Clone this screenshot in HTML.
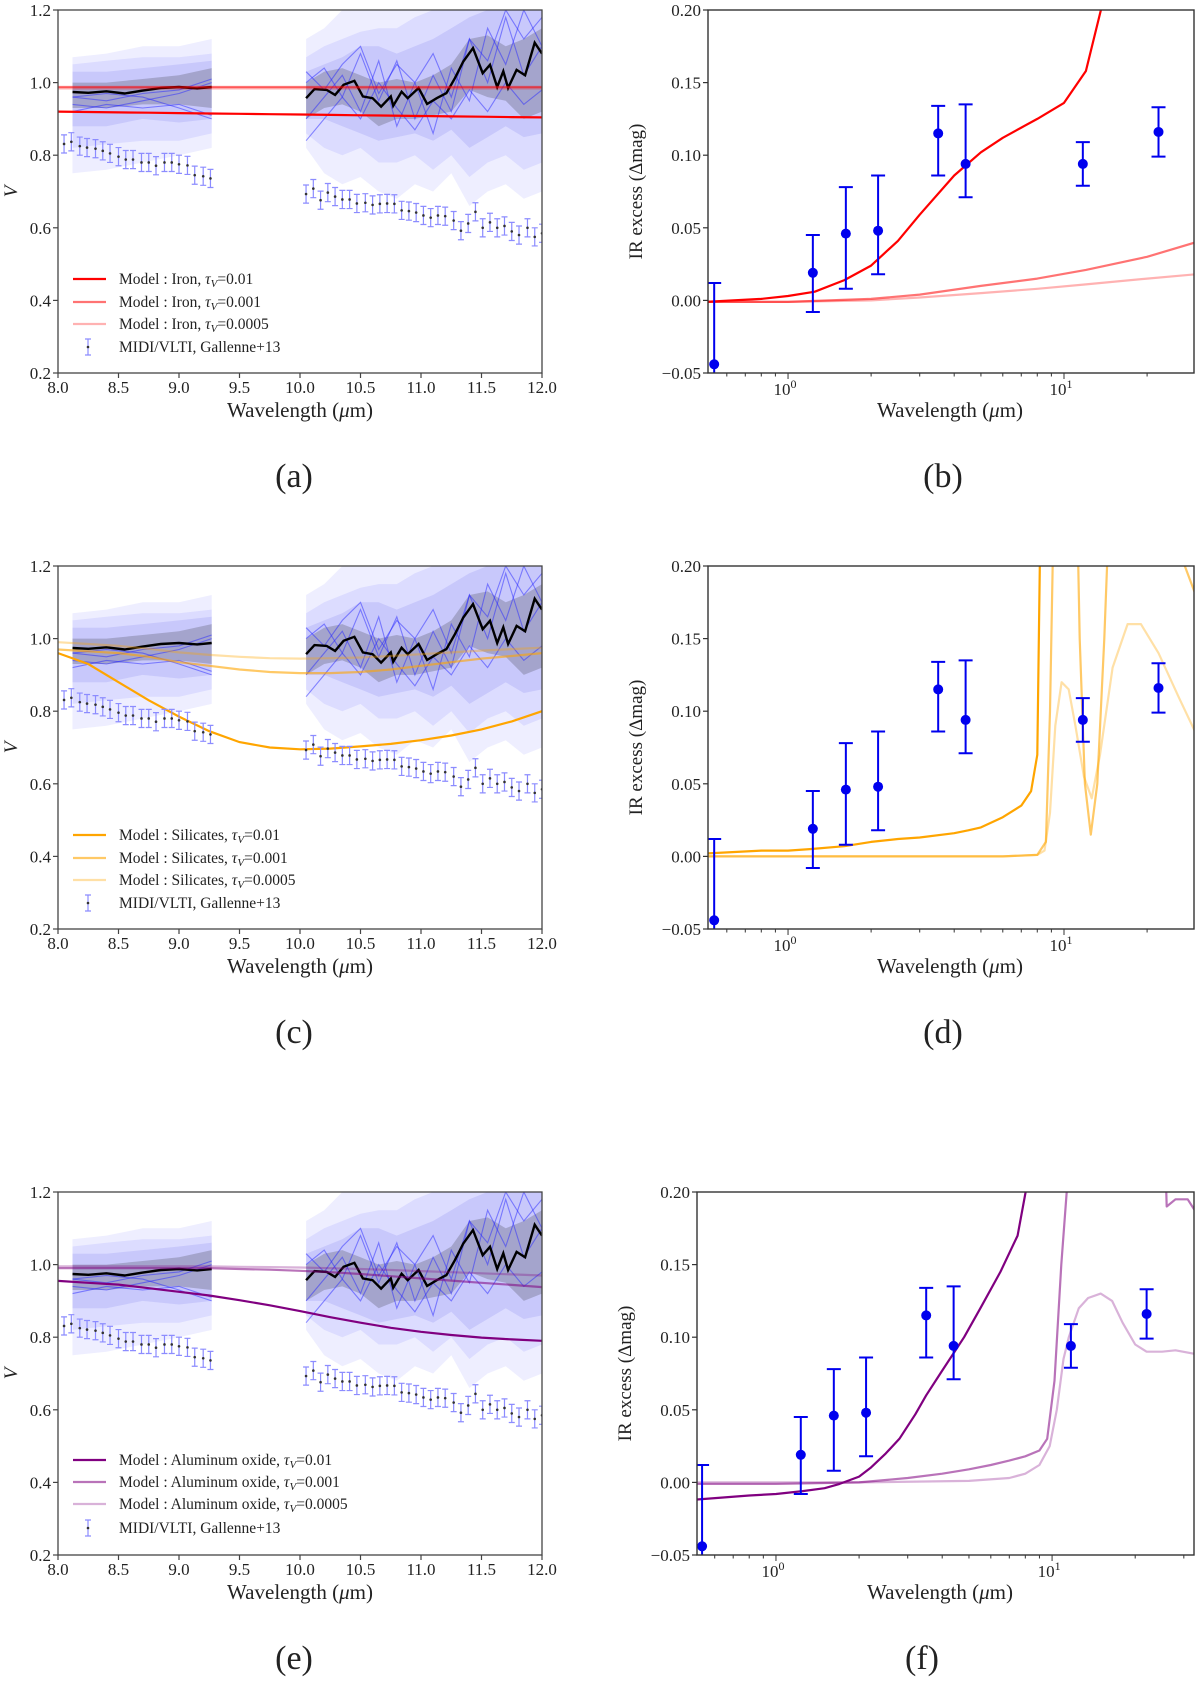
<!DOCTYPE html>
<html><head><meta charset="utf-8"><style>
html,body{margin:0;padding:0;background:#fff;}
svg{display:block;font-family:"Liberation Serif",serif;}
</style></head><body>
<svg id="fig" width="1200" height="1683" viewBox="0 0 1200 1683" xmlns="http://www.w3.org/2000/svg"></svg>
<script>
// ---------- DATA ----------
const midi1X=[8.05,8.11,8.18,8.24,8.31,8.37,8.43,8.50,8.56,8.62,8.69,8.75,8.81,8.88,8.94,9.00,9.07,9.13,9.20,9.26];
const midi1Y=[0.831,0.837,0.825,0.821,0.818,0.812,0.805,0.796,0.788,0.788,0.78,0.78,0.771,0.78,0.78,0.775,0.772,0.745,0.742,0.736];
const midi2X=[10.05,10.11,10.17,10.23,10.29,10.35,10.41,10.47,10.54,10.60,10.66,10.72,10.78,10.84,10.90,10.96,11.02,11.08,11.14,11.20,11.27,11.33,11.39,11.45,11.51,11.57,11.63,11.69,11.75,11.81,11.88,11.94,12.0];
const midi2Y=[0.693,0.708,0.676,0.697,0.686,0.678,0.678,0.667,0.669,0.663,0.666,0.667,0.666,0.648,0.646,0.642,0.634,0.628,0.634,0.632,0.62,0.592,0.612,0.644,0.6,0.615,0.6,0.605,0.59,0.58,0.6,0.575,0.585];
const midiErr=0.025;
const black1X=[8.12,8.25,8.4,8.55,8.7,8.85,9.0,9.15,9.27];
const black1Y=[0.974,0.972,0.976,0.97,0.978,0.985,0.988,0.984,0.988];
const black2X=[10.05,10.12,10.22,10.29,10.36,10.45,10.52,10.60,10.67,10.75,10.77,10.84,10.89,10.98,11.05,11.13,11.21,11.28,11.35,11.43,11.51,11.57,11.63,11.68,11.72,11.79,11.86,11.94,12.0];
const black2Y=[0.957,0.982,0.98,0.966,0.994,1.005,0.962,0.957,0.934,0.962,0.936,0.975,0.957,0.985,0.941,0.957,0.971,1.012,1.058,1.095,1.026,1.049,0.988,1.031,0.985,1.035,1.02,1.11,1.08];
const band1X=[8.12,8.4,8.7,9.0,9.27];
const band1Up=[[1.07,1.08,1.1,1.1,1.12],[1.05,1.06,1.07,1.07,1.08],[1.03,1.03,1.04,1.05,1.06],[1.0,1.0,1.01,1.02,1.04]];
const band1Lo=[[0.75,0.76,0.78,0.8,0.82],[0.82,0.83,0.84,0.84,0.86],[0.88,0.88,0.9,0.89,0.9],[0.93,0.93,0.94,0.94,0.93]];
const band2X=[10.05,10.2,10.35,10.5,10.65,10.8,10.95,11.1,11.25,11.4,11.55,11.7,11.85,12.0];
const band2Up=[[1.12,1.15,1.2,1.2,1.2,1.2,1.2,1.2,1.2,1.2,1.2,1.2,1.2,1.2],[1.07,1.1,1.12,1.14,1.15,1.15,1.18,1.2,1.2,1.2,1.2,1.2,1.2,1.2],[1.03,1.05,1.07,1.1,1.1,1.08,1.1,1.12,1.15,1.18,1.2,1.2,1.2,1.2],[1.0,1.03,1.04,1.02,1.0,1.01,1.0,1.02,1.05,1.12,1.13,1.1,1.12,1.15]];
const band2Lo=[[0.82,0.75,0.72,0.74,0.7,0.68,0.72,0.7,0.75,0.66,0.7,0.72,0.68,0.7],[0.86,0.82,0.8,0.82,0.78,0.78,0.8,0.76,0.8,0.74,0.78,0.8,0.76,0.78],[0.9,0.9,0.88,0.86,0.84,0.85,0.86,0.84,0.87,0.82,0.85,0.88,0.85,0.86],[0.9,0.93,0.94,0.92,0.88,0.9,0.9,0.91,0.92,0.98,0.96,0.95,0.9,0.92]];
const thin1X=[8.12,8.4,8.7,9.0,9.27];
const thin1Y=[[0.96,0.95,0.97,0.98,1.01],[0.94,0.93,0.95,0.97,1.0],[0.92,0.94,0.93,0.94,0.91],[0.96,0.97,0.96,0.93,0.90]];
const thin2X=[10.05,10.2,10.35,10.5,10.65,10.8,10.95,11.1,11.25,11.4,11.55,11.7,11.85,12.0];
const thin2Y=[
[1.0,1.04,0.96,1.08,0.95,1.06,0.9,1.02,0.92,1.12,1.0,1.18,1.02,1.1],
[0.9,0.96,1.02,0.92,1.06,0.88,1.0,0.86,1.04,0.95,1.15,1.05,1.2,1.1],
[0.84,0.9,0.96,0.9,1.0,0.93,0.87,0.95,0.9,0.98,0.92,1.0,0.94,0.98],
[1.03,0.98,1.05,1.1,0.97,1.05,1.0,1.08,0.96,1.12,1.06,1.2,1.12,1.18]];
const modX=[8,8.25,8.5,8.75,9,9.25,9.5,9.75,10,10.25,10.5,10.75,11,11.25,11.5,11.75,12];
const ironA=[0.920,0.919,0.918,0.917,0.916,0.915,0.914,0.913,0.912,0.911,0.910,0.909,0.908,0.907,0.906,0.905,0.904];
const ironB=[0.988,0.988,0.988,0.988,0.988,0.988,0.988,0.988,0.988,0.988,0.988,0.988,0.988,0.988,0.988,0.988,0.988];
const ironC=[0.984,0.984,0.984,0.984,0.984,0.984,0.984,0.984,0.984,0.984,0.984,0.984,0.984,0.984,0.984,0.984,0.984];
const silA=[0.96,0.93,0.88,0.83,0.785,0.745,0.715,0.70,0.695,0.697,0.703,0.71,0.72,0.733,0.75,0.772,0.80];
const silB=[0.97,0.965,0.96,0.95,0.935,0.925,0.915,0.908,0.905,0.905,0.908,0.915,0.925,0.935,0.945,0.952,0.96];
const silC=[0.99,0.985,0.98,0.972,0.962,0.955,0.95,0.946,0.945,0.946,0.948,0.952,0.957,0.962,0.967,0.971,0.975];
const alA=[0.955,0.95,0.945,0.935,0.925,0.915,0.902,0.888,0.872,0.855,0.84,0.826,0.815,0.806,0.799,0.794,0.79];
const alB=[0.99,0.99,0.99,0.99,0.99,0.99,0.988,0.986,0.983,0.979,0.974,0.968,0.962,0.956,0.95,0.944,0.938];
const alC=[0.995,0.995,0.995,0.995,0.995,0.995,0.994,0.993,0.992,0.99,0.988,0.985,0.982,0.979,0.976,0.973,0.97];
const obsX=[0.54,1.23,1.62,2.12,3.5,4.4,11.7,22];
const obsY=[-0.044,0.019,0.046,0.048,0.115,0.094,0.094,0.116];
const obsLo=[-0.1,-0.008,0.008,0.018,0.086,0.071,0.079,0.099];
const obsHi=[0.012,0.045,0.078,0.086,0.134,0.135,0.109,0.133];
const ironRAx=[0.5,0.8,1,1.25,1.6,2,2.5,3,4,5,6,7,8,10,12,13.6,15];
const ironRAy=[-0.001,0.001,0.003,0.006,0.014,0.024,0.041,0.059,0.086,0.102,0.112,0.119,0.125,0.136,0.158,0.2,0.22];
const ironRBx=[0.5,1,2,3,5,8,12,20,30];
const ironRBy=[-0.001,-0.001,0.001,0.004,0.01,0.015,0.021,0.03,0.04];
const ironRCy=[-0.001,-0.001,0.0,0.002,0.005,0.008,0.011,0.015,0.018];
const silRAx=[0.5,0.8,1,1.2,1.6,2,2.5,3,4,4.5,5,6,7,7.6,8.0,8.2,8.5,30];
const silRAy=[0.002,0.004,0.004,0.005,0.007,0.01,0.012,0.013,0.016,0.018,0.02,0.027,0.035,0.045,0.07,0.22,0.5,0.5];
const silRBx=[0.5,1,2,4,6,8,8.6,8.9,9.2,9.5,11,11.4,11.9,12.5,13.2,14,15,25,27.4,30];
const silRBy=[0,0,0,0,0,0.001,0.01,0.1,0.25,0.4,0.3,0.15,0.05,0.015,0.05,0.15,0.3,0.3,0.2,0.18];
const silRCx=[0.5,2,6,8,8.5,8.9,9.3,9.8,10.4,11,11.8,12.6,13.5,15,17,19,22,26,30];
const silRCy=[0,0,0,0.001,0.004,0.03,0.09,0.12,0.115,0.09,0.055,0.04,0.07,0.13,0.16,0.16,0.14,0.11,0.085];
const alRAx=[0.5,0.8,1,1.25,1.5,1.7,2,2.2,2.5,2.8,3.2,3.5,4,4.8,5.5,6.5,7.5,8.2];
const alRAy=[-0.012,-0.009,-0.008,-0.006,-0.004,-0.001,0.004,0.01,0.02,0.03,0.047,0.06,0.077,0.1,0.12,0.145,0.17,0.21];
const alRBx=[0.5,1,2,3,4,5,6,7,8,9,9.6,10.2,10.8,11.3,11.8,25,26,28,31,34];
const alRBy=[-0.001,-0.001,0.0,0.003,0.006,0.009,0.012,0.015,0.018,0.022,0.03,0.07,0.15,0.2,0.3,0.3,0.19,0.195,0.195,0.183];
const alRCx=[0.5,2,5,7,8,9,9.8,10.4,11,11.5,12.5,13.5,15,16.5,18,20,22,25,28,34];
const alRCy=[0,0,0.001,0.003,0.006,0.012,0.025,0.05,0.085,0.1,0.12,0.127,0.13,0.125,0.11,0.095,0.09,0.09,0.091,0.088];
const leftYTicks=[0.2,0.4,0.6,0.8,1.0,1.2];
const leftXTicks=[8.0,8.5,9.0,9.5,10.0,10.5,11.0,11.5,12.0];
const rightYTicks=[-0.05,0.00,0.05,0.10,0.15,0.20];

// ---------- HELPERS ----------
const NS="http://www.w3.org/2000/svg";
const fig=document.getElementById('fig');
function add(tag,attrs,name,parent){
  const el=document.createElementNS(NS,tag);
  for(const k in attrs) el.setAttribute(k,attrs[k]);
  
  
  (parent||fig).appendChild(el);
  return el;
}
function txt(x,y,s,size,anchor,name,parent,extra){
  const t=add('text',Object.assign({x:x,y:y,'font-size':size,'text-anchor':anchor||'middle',fill:'#222'},extra||{}),name,parent);
  t.textContent=s;return t;
}
let clipId=0;
function makeClip(p){
  clipId++;
  const cp=add('clipPath',{id:'c'+clipId},'clip-region');
  add('rect',{x:p.x0,y:p.y0,width:p.x1-p.x0,height:p.y1-p.y0},'clip-rect',cp);
  return add('g',{'clip-path':'url(#c'+clipId+')'},'plot-area');
}
function pathD(xs,ys,fx,fy){return xs.map((x,i)=>(i?'L':'M')+fx(x).toFixed(1)+','+fy(ys[i]).toFixed(1)).join('');}
function bandD(xs,up,lo,fx,fy){
  let d=xs.map((x,i)=>(i?'L':'M')+fx(x).toFixed(1)+','+fy(up[i]).toFixed(1)).join('');
  for(let i=xs.length-1;i>=0;i--) d+='L'+fx(xs[i]).toFixed(1)+','+fy(lo[i]).toFixed(1);
  return d+'Z';
}
function wavelengthTitle(x,y){
  const xt=txt(x,y,'',21,'middle','x-axis-title');
  xt.appendChild(document.createTextNode('Wavelength ('));
  const mu=document.createElementNS(NS,'tspan');mu.setAttribute('font-style','italic');mu.textContent='μ';xt.appendChild(mu);
  xt.appendChild(document.createTextNode('m)'));
}

// ---------- LEFT PANELS ----------
function leftPanel(p){
  const fx=w=>p.x0+(w-8)/4*(p.x1-p.x0);
  const fy=v=>p.y0+(1.2-v)*(p.y1-p.y0);
  const g=makeClip(p);
  const blues=['rgba(90,90,255,0.10)','rgba(90,90,255,0.12)','rgba(80,80,230,0.14)'];
  for(let k=0;k<3;k++){
    add('path',{d:bandD(band1X,band1Up[k],band1Lo[k],fx,fy),fill:blues[k]},'midi-band',g);
    add('path',{d:bandD(band2X,band2Up[k],band2Lo[k],fx,fy),fill:blues[k]},'midi-band',g);
  }
  add('path',{d:bandD(band1X,band1Up[3],band1Lo[3],fx,fy),fill:'rgba(90,90,110,0.33)'},'midi-grey-band',g);
  add('path',{d:bandD(band2X,band2Up[3],band2Lo[3],fx,fy),fill:'rgba(90,90,110,0.33)'},'midi-grey-band',g);
  thin1Y.forEach(ys=>add('path',{d:pathD(thin1X,ys,fx,fy),fill:'none',stroke:'rgba(40,40,255,0.5)','stroke-width':1.1},'midi-baseline-line',g));
  thin2Y.forEach(ys=>add('path',{d:pathD(thin2X,ys,fx,fy),fill:'none',stroke:'rgba(40,40,255,0.5)','stroke-width':1.1},'midi-baseline-line',g));
  add('path',{d:pathD(black1X,black1Y,fx,fy),fill:'none',stroke:'#000','stroke-width':2.4},'midi-mean-line',g);
  add('path',{d:pathD(black2X,black2Y,fx,fy),fill:'none',stroke:'#000','stroke-width':2.4},'midi-mean-line',g);
  p.models.forEach((m,i)=>add('path',{d:pathD(modX,m.y,fx,fy),fill:'none',stroke:m.c,'stroke-width':2.2},'model-curve-'+(i+1),g));
  const errs=(xs,ys)=>xs.forEach((x,i)=>{
    const X=fx(x),y1=fy(ys[i]+midiErr),y2=fy(ys[i]-midiErr);
    add('path',{d:`M${X},${y1}L${X},${y2}M${X-3},${y1}L${X+3},${y1}M${X-3},${y2}L${X+3},${y2}`,stroke:'#8c8cff','stroke-width':1.2,fill:'none'},'midi-errorbar',g);
    add('circle',{cx:X,cy:fy(ys[i]),r:1.3,fill:'#333'},'midi-point',g);
  });
  errs(midi1X,midi1Y);errs(midi2X,midi2Y);
  const ly=p.legY;
  p.models.forEach((m,i)=>{
    const y=ly[i];
    add('line',{x1:73,x2:106,y1:y,y2:y,stroke:m.c,'stroke-width':2.2},'legend-line');
    const t=txt(119,y+5,'',15.5,'start','legend-entry');
    t.appendChild(document.createTextNode('Model : '+p.mat+', '));
    const ts=document.createElementNS(NS,'tspan');ts.setAttribute('font-style','italic');ts.textContent='τ';t.appendChild(ts);
    const sb=document.createElementNS(NS,'tspan');sb.setAttribute('font-style','italic');sb.setAttribute('font-size','11');sb.setAttribute('dy','3');sb.textContent='V';t.appendChild(sb);
    const rest=document.createElementNS(NS,'tspan');rest.setAttribute('dy','-3');rest.textContent='='+m.tau;t.appendChild(rest);
  });
  const y4=ly[3];
  add('path',{d:`M88,${y4-8}L88,${y4+8}M85,${y4-8}L91,${y4-8}M85,${y4+8}L91,${y4+8}`,stroke:'#8c8cff','stroke-width':1.2,fill:'none'},'legend-errorbar-icon');
  add('circle',{cx:88,cy:y4,r:1.3,fill:'#333'},'legend-point-icon');
  txt(119,y4+5,'MIDI/VLTI, Gallenne+13',15.5,'start','legend-entry');
  add('rect',{x:p.x0,y:p.y0,width:p.x1-p.x0,height:p.y1-p.y0,fill:'none',stroke:'#444','stroke-width':1.3},'axes-frame');
  leftYTicks.forEach(v=>{const y=fy(v);add('line',{x1:p.x0-5,x2:p.x0,y1:y,y2:y,stroke:'#444','stroke-width':1.2},'y-tick');txt(p.x0-7,y+6,v.toFixed(1),17,'end','y-tick-label');});
  leftXTicks.forEach(v=>{const x=fx(v);add('line',{x1:x,x2:x,y1:p.y1,y2:p.y1+5,stroke:'#444','stroke-width':1.2},'x-tick');txt(x,p.y1+20,v.toFixed(1),17,'middle','x-tick-label');});
  wavelengthTitle(300,p.y1+44);
  txt(0,0,'V',19,'middle','y-axis-title',fig,{transform:`translate(17,${(p.y0+p.y1)/2}) rotate(-90)`,'font-style':'italic'});
  txt(294,p.letY,p.letter,34,'middle','panel-label');
}

// ---------- RIGHT PANELS ----------
function rightPanel(p){
  const fx=w=>p.x0+(Math.log10(w)-p.lmin)/(p.lmax-p.lmin)*(p.x1-p.x0);
  const fy=v=>p.y0+(0.2-v)/0.25*(p.y1-p.y0);
  const g=makeClip(p);
  p.curves.forEach((c,i)=>add('path',{d:pathD(c.x,c.y,fx,fy),fill:'none',stroke:c.c,'stroke-width':2.2,'stroke-linejoin':'round'},'model-curve-'+(i+1),g));
  obsX.forEach((x,i)=>{
    const X=fx(x),a=fy(obsHi[i]),b=fy(obsLo[i]);
    add('path',{d:`M${X},${a}L${X},${b}M${X-7},${a}L${X+7},${a}M${X-7},${b}L${X+7},${b}`,stroke:'#0000ee','stroke-width':2,fill:'none'},'photometry-errorbar',g);
    add('circle',{cx:X,cy:fy(obsY[i]),r:5,fill:'#0000ee'},'photometry-point',g);
  });
  add('rect',{x:p.x0,y:p.y0,width:p.x1-p.x0,height:p.y1-p.y0,fill:'none',stroke:'#333','stroke-width':1.4},'axes-frame');
  rightYTicks.forEach(v=>{const y=fy(v);add('line',{x1:p.x0-5,x2:p.x0,y1:y,y2:y,stroke:'#333','stroke-width':1.2},'y-tick');txt(p.x0-7,y+6,(v<0?'−':'')+Math.abs(v).toFixed(2),17,'end','y-tick-label');});
  for(let k=-1;k<=1;k++)for(let m=1;m<=9;m++){
    const w=m*Math.pow(10,k);const lw=Math.log10(w);
    if(lw<p.lmin||lw>p.lmax)continue;
    const x=fx(w);
    add('line',{x1:x,x2:x,y1:p.y1,y2:p.y1+(m===1?6:3.5),stroke:'#333','stroke-width':1},'x-tick');
    if(m===1){const t=txt(x-3,p.y1+22,'10',17,'middle','x-tick-label');const s=document.createElementNS(NS,'tspan');s.setAttribute('font-size','12');s.setAttribute('dy','-7');s.textContent=String(k);t.appendChild(s);}
  }
  wavelengthTitle(p.xlab,p.y1+44);
  txt(0,0,'IR excess (Δmag)',19,'middle','y-axis-title',fig,{transform:`translate(${p.x0-66},${(p.y0+p.y1)/2}) rotate(-90)`});
  txt(p.letX,p.letY,p.letter,34,'middle','panel-label');
}

leftPanel({x0:58,x1:542,y0:10,y1:373,mat:'Iron',legY:[279,302,324,347],letY:487,letter:'(a)',
  models:[{y:ironA,c:'#ff0000',tau:'0.01'},{y:ironB,c:'rgba(255,0,0,0.55)',tau:'0.001'},{y:ironC,c:'rgba(255,0,0,0.3)',tau:'0.0005'}]});
leftPanel({x0:58,x1:542,y0:566,y1:929,mat:'Silicates',legY:[835,858,880,903],letY:1043,letter:'(c)',
  models:[{y:silA,c:'#ffa500',tau:'0.01'},{y:silB,c:'rgba(255,165,0,0.6)',tau:'0.001'},{y:silC,c:'rgba(255,165,0,0.35)',tau:'0.0005'}]});
leftPanel({x0:58,x1:542,y0:1192,y1:1555,mat:'Aluminum oxide',legY:[1460,1482,1504,1528],letY:1669,letter:'(e)',
  models:[{y:alA,c:'#800080',tau:'0.01'},{y:alB,c:'rgba(128,0,128,0.55)',tau:'0.001'},{y:alC,c:'rgba(128,0,128,0.3)',tau:'0.0005'}]});

rightPanel({x0:708,x1:1194,y0:10,y1:373,lmin:-0.29,lmax:1.471,xlab:950,letX:943,letY:487,letter:'(b)',
  curves:[{x:ironRAx,y:ironRAy,c:'#ff0000'},{x:ironRBx,y:ironRBy,c:'rgba(255,0,0,0.55)'},{x:ironRBx,y:ironRCy,c:'rgba(255,0,0,0.3)'}]});
rightPanel({x0:708,x1:1194,y0:566,y1:929,lmin:-0.29,lmax:1.471,xlab:950,letX:943,letY:1043,letter:'(d)',
  curves:[{x:silRAx,y:silRAy,c:'#ffa500'},{x:silRBx,y:silRBy,c:'rgba(255,165,0,0.6)'},{x:silRCx,y:silRCy,c:'rgba(255,165,0,0.35)'}]});
rightPanel({x0:697,x1:1194,y0:1192,y1:1555,lmin:-0.286,lmax:1.514,xlab:940,letX:922,letY:1669,letter:'(f)',
  curves:[{x:alRAx,y:alRAy,c:'#800080'},{x:alRBx,y:alRBy,c:'rgba(128,0,128,0.55)'},{x:alRCx,y:alRCy,c:'rgba(128,0,128,0.3)'}]});
</script>
</body></html>
